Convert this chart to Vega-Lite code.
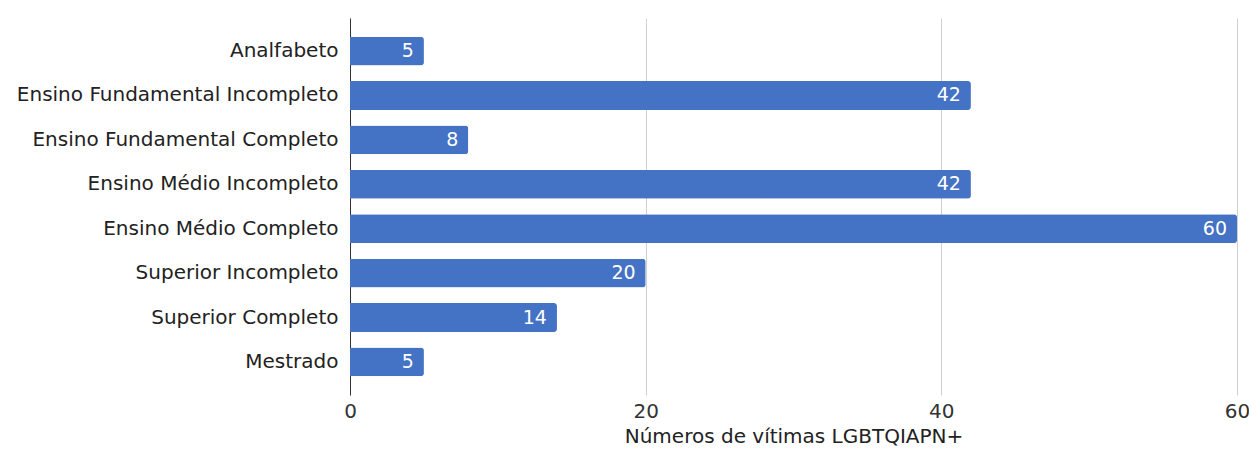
{
  "$schema": "https://vega.github.io/schema/vega-lite/v6.json",
  "autosize": "none",
  "width": 887,
  "height": 377,
  "padding": {"left": 350, "top": 18, "right": 12, "bottom": 56},
  "background": "white",
  "config": {"view": {"stroke": null}, "font": "DejaVu Sans"},
  "data": {"values": [
    {"escolaridade": "Analfabeto", "vitimas": 5},
    {"escolaridade": "Ensino Fundamental Incompleto", "vitimas": 42},
    {"escolaridade": "Ensino Fundamental Completo", "vitimas": 8},
    {"escolaridade": "Ensino Médio Incompleto", "vitimas": 42},
    {"escolaridade": "Ensino Médio Completo", "vitimas": 60},
    {"escolaridade": "Superior Incompleto", "vitimas": 20},
    {"escolaridade": "Superior Completo", "vitimas": 14},
    {"escolaridade": "Mestrado", "vitimas": 5}
  ]},
  "encoding": {
    "y": {"field": "escolaridade", "type": "nominal", "sort": null,
      "scale": {"paddingInner": 0.35, "paddingOuter": 0.42},
      "axis": {"title": null, "ticks": false, "labelPadding": 12, "labelFontSize": 20, "labelFont": "DejaVu Sans", "labelColor": "#222222", "domainColor": "#333333", "domainWidth": 1, "labelLimit": 400}},
    "x": {"field": "vitimas", "type": "quantitative",
      "scale": {"domain": [0, 60], "nice": false},
      "axis": {"values": [0, 20, 40, 60], "title": "Números de vítimas LGBTQIAPN+", "titleFont": "DejaVu Sans", "titleFontSize": 20, "titleFontWeight": "normal", "titleColor": "#222222", "titlePadding": 5, "ticks": false, "domain": false, "labelPadding": 6, "labelFont": "DejaVu Sans", "labelFontSize": 20, "labelColor": "#333333", "gridColor": "#d0d0d0", "labelFlush": false}}
  },
  "layer": [
    {"mark": {"type": "bar", "color": "#4472C4", "cornerRadiusEnd": 3}},
    {"mark": {"type": "text", "align": "right", "dx": -10, "color": "white", "fontSize": 19, "font": "DejaVu Sans", "baseline": "middle"},
     "encoding": {"text": {"field": "vitimas", "type": "quantitative"}}}
  ]
}
